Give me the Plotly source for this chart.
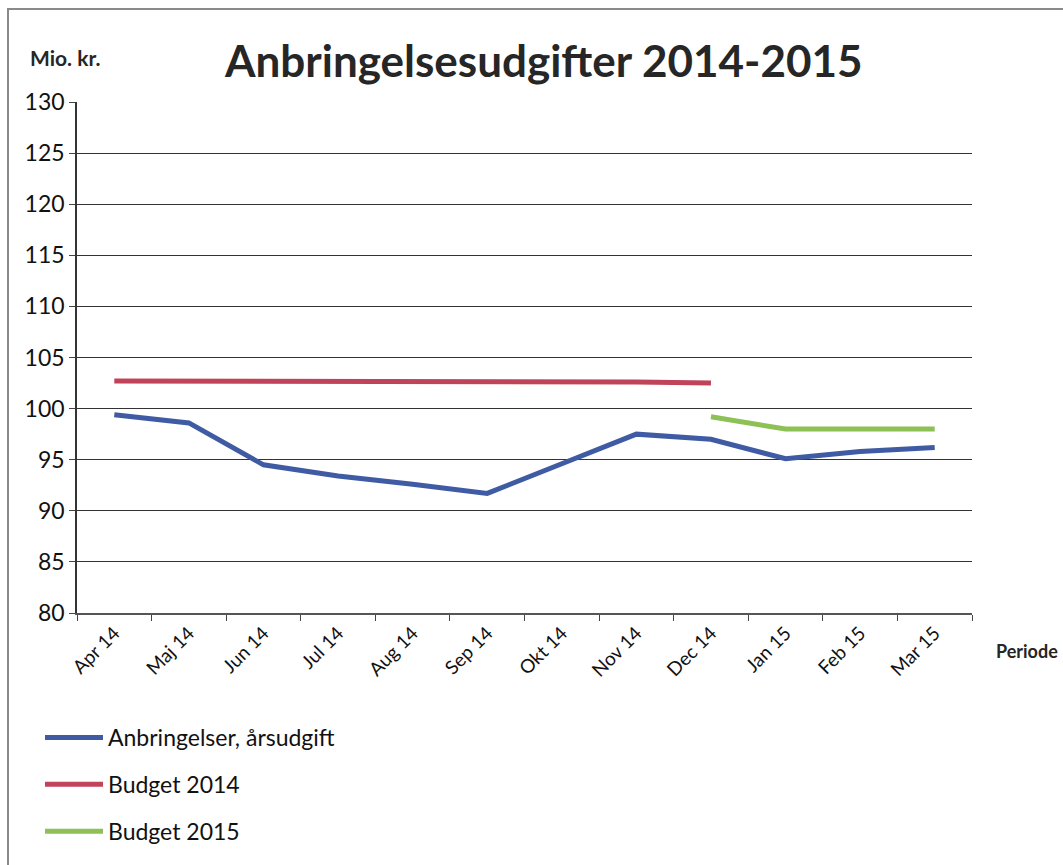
import plotly.graph_objects as go

categories = ["Apr 14", "Maj 14", "Jun 14", "Jul 14", "Aug 14", "Sep 14",
              "Okt 14", "Nov 14", "Dec 14", "Jan 15", "Feb 15", "Mar 15"]
anbringelser = [99.4, 98.6, 94.5, 93.4, 92.6, 91.7, 94.6, 97.5, 97.0, 95.1, 95.8, 96.2]
budget_2014 = [102.7, 102.7, 102.7, 102.7, 102.6, 102.6, 102.6, 102.6, 102.5,
               None, None, None]
budget_2015 = [None, None, None, None, None, None, None, None, 99.2, 98.0, 98.0, 98.0]

FONT = "Lato, Carlito, 'Liberation Sans', sans-serif"

fig = go.Figure()
fig.add_trace(go.Scatter(x=categories, y=anbringelser, mode="lines",
                         name="Anbringelser, årsudgift", legendgroup="a",
                         line=dict(color="#3f5ba3", width=5)))
fig.add_trace(go.Scatter(x=categories, y=budget_2014, mode="lines",
                         name="Budget 2014", legendgroup="b",
                         line=dict(color="#c0435a", width=5)))
fig.add_trace(go.Scatter(x=categories, y=budget_2015, mode="lines",
                         name="Budget 2015", legendgroup="c",
                         line=dict(color="#8dc055", width=5)))

L, R, T, B = 77, 91, 102, 247
W, H = 1063, 865
pw, ph = W - L - R, H - T - B

def px(xp):
    return (xp - L) / pw

def py(yp):
    return (H - B - yp) / ph

fig.update_layout(
    width=W, height=H,
    margin=dict(l=L, r=R, t=T, b=B),
    paper_bgcolor="white", plot_bgcolor="white",
    font=dict(family=FONT, color="#111111"),
    showlegend=True,
    legend=dict(x=px(40), y=py(722), xanchor="left", yanchor="top",
                font=dict(size=23, color="#111111"),
                traceorder="grouped", tracegroupgap=14,
                bgcolor="rgba(0,0,0,0)", itemwidth=58),
    xaxis=dict(type="category", tickson="boundaries", ticks="outside",
               range=[-0.5, 11.5],
               ticklen=6, tickcolor="#444", showline=True, linecolor="#555",
               linewidth=1.5, showgrid=False, tickangle=-45,
               tickfont=dict(size=19, color="#111111")),
    yaxis=dict(range=[80, 130], dtick=5, ticks="outside", ticklen=6,
               tickcolor="#444", showline=True, linecolor="#333", linewidth=1.5,
               showgrid=True, gridcolor="#333333", gridwidth=1,
               zeroline=False, tickfont=dict(size=23, color="#111111")),
    annotations=[
        dict(text="<b>Anbringelsesudgifter 2014-2015</b>", xref="paper", yref="paper",
             x=px(543), y=py(60), xanchor="center", yanchor="middle",
             showarrow=False, font=dict(size=44, color="#262626")),
        dict(text="<b>Mio. kr.</b>", xref="paper", yref="paper",
             x=px(28), y=py(57), xanchor="left", yanchor="middle",
             showarrow=False, font=dict(size=21, color="#262626")),
        dict(text="<b>Periode</b>", xref="paper", yref="paper",
             x=px(1060), y=py(656), xanchor="right", yanchor="middle",
             showarrow=False, font=dict(size=18, color="#262626")),
    ],
    shapes=[
        dict(type="rect", xref="paper", yref="paper",
             x0=px(8), x1=px(1075), y0=py(880), y1=py(8),
             line=dict(color="#8a8a8a", width=2), layer="below"),
    ],
)

fig.write_html("out.html", config={"displayModeBar": False},
               post_script="document.body.style.margin='0';document.body.style.overflow='hidden';")
